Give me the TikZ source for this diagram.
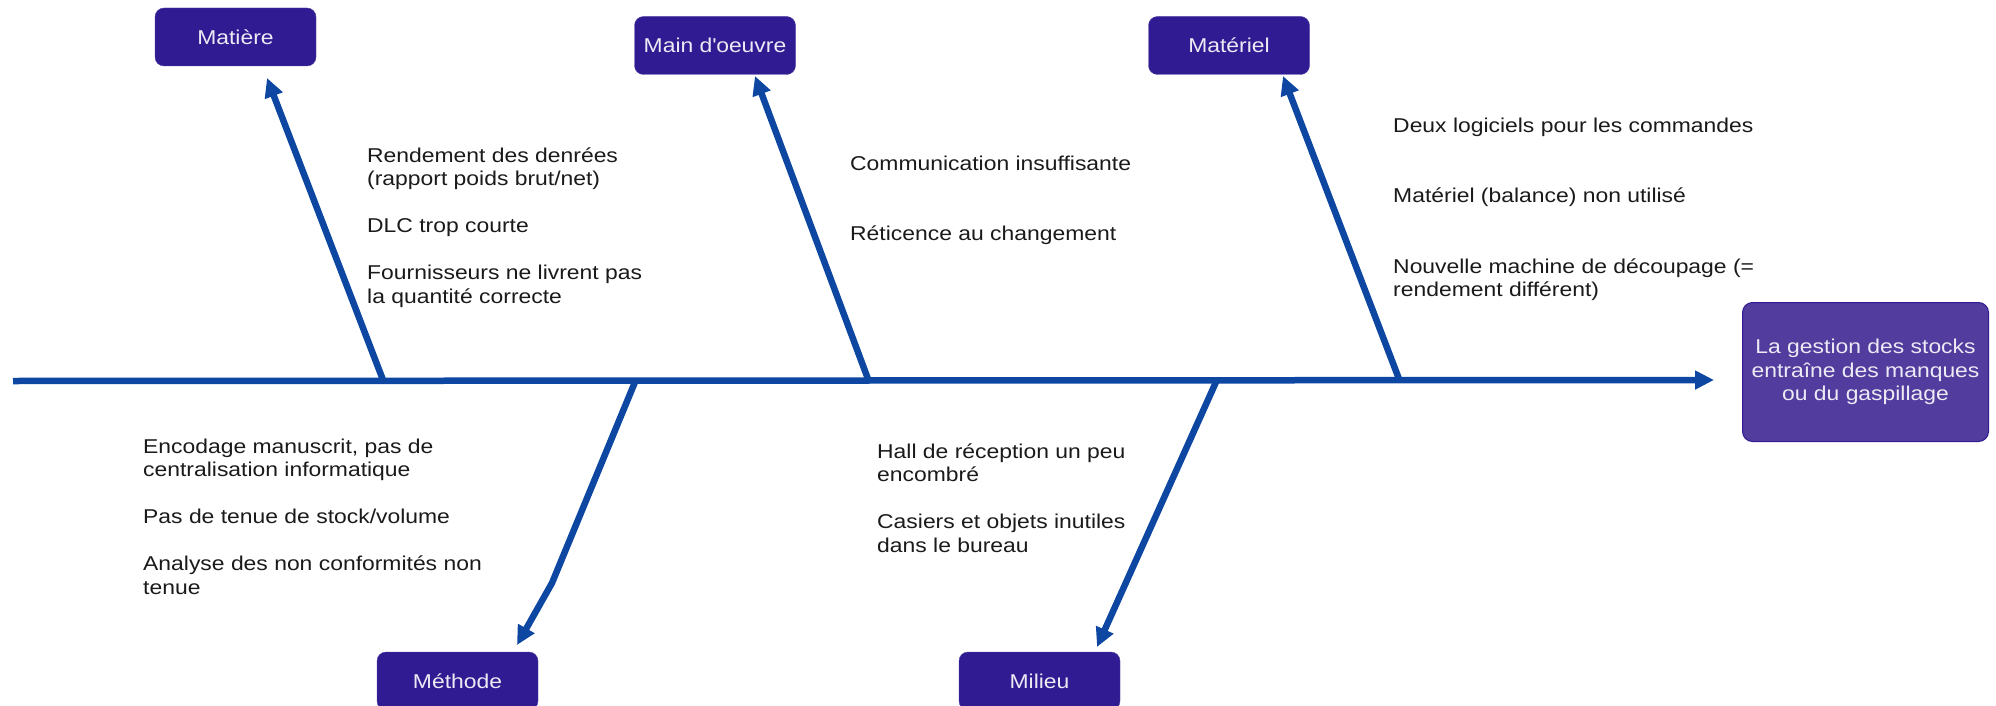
\documentclass[tikz,border=0pt]{standalone}
\usepackage{fontspec}
\setmainfont{Liberation Sans}[FakeStretch=1.145]
\usetikzlibrary{arrows.meta}
\definecolor{bone}{HTML}{0D47A1}
\definecolor{catfill}{HTML}{311B92}
\definecolor{effill}{HTML}{523C9E}
\definecolor{txt}{HTML}{1A1A1A}
\definecolor{boxtxt}{HTML}{ECEAF4}
\newcommand\blk[1]{\begin{tabular}[t]{@{}l@{}}#1\end{tabular}}
\begin{document}
\begin{tikzpicture}[x=1pt,y=-1pt,
  basefont/.style={font=\fontsize{20}{23.5}\selectfont},
  catbox/.style={basefont, draw=catfill!85!white, fill=catfill, rounded corners=9pt,
    minimum width=161pt, minimum height=58pt, inner sep=0pt, text=boxtxt},
  effbox/.style={basefont, draw=catfill, line width=1pt, fill=effill, rounded corners=10pt,
    minimum width=246pt, minimum height=139pt, inner sep=0pt, text=boxtxt, align=center},
  cause/.style={basefont, text=txt, inner sep=0pt, anchor=base west},
  bonearrow/.style={draw=bone, line width=6.5pt, -{Triangle[length=19pt,width=18pt]}},
]
\useasboundingbox (0,0) rectangle (1996,706);
\clip (0,0) rectangle (1996,706);

% category boxes
\node[catbox] (matiere) at (235.5,37) {Matière};
\node[catbox] (mainoeuvre) at (715,45.5) {Main d\textquotesingle oeuvre};
\node[catbox] (materiel) at (1229,45.5) {Matériel};
\node[catbox] (methode) at (457.5,681) {Méthode};
\node[catbox] (milieu) at (1039.5,681) {Milieu};

% effect box
\node[effbox] (effet) at (1865.5,372) {La gestion des stocks\\entraîne des manques\\ou du gaspillage};

% spine
\coordinate (sL) at (13,381);
\coordinate (sR) at (1714,380);
\draw[bonearrow] (sL) -- (sR);

% bones
\coordinate (b1) at (383,380);
\coordinate (t1) at (267,78);
\coordinate (b2) at (868,379);
\coordinate (t2) at (755,76);
\coordinate (b3) at (1399,379);
\coordinate (t3) at (1283,76);
\coordinate (b4) at (635,382);
\coordinate (k4) at (552,583);
\coordinate (t4) at (517,645);
\coordinate (b5) at (1216,382);
\coordinate (t5) at (1097,647);
\draw[bonearrow] (b1) -- (t1);
\draw[bonearrow] (b2) -- (t2);
\draw[bonearrow] (b3) -- (t3);
\draw[bonearrow] (b4) -- (k4) -- (t4);
\draw[bonearrow] (b5) -- (t5);

% causes
\node[cause] (c1) at (367,162) {\blk{Rendement des denrées\\(rapport poids brut/net)\\ \\DLC trop courte\\ \\Fournisseurs ne livrent pas\\la quantité correcte}};
\node[cause] (c2) at (850,170) {\blk{Communication insuffisante\\ \\ \\Réticence au changement}};
\node[cause] (c3) at (1393,132) {\blk{Deux logiciels pour les commandes\\ \\ \\Matériel (balance) non utilisé\\ \\ \\Nouvelle machine de découpage (=\\rendement différent)}};
\node[cause] (c4) at (143,453) {\blk{Encodage manuscrit, pas de\\centralisation informatique\\ \\Pas de tenue de stock/volume\\ \\Analyse des non conformités non\\tenue}};
\node[cause] (c5) at (877,458) {\blk{Hall de réception un peu\\encombré\\ \\Casiers et objets inutiles\\dans le bureau}};
\end{tikzpicture}
\end{document}
